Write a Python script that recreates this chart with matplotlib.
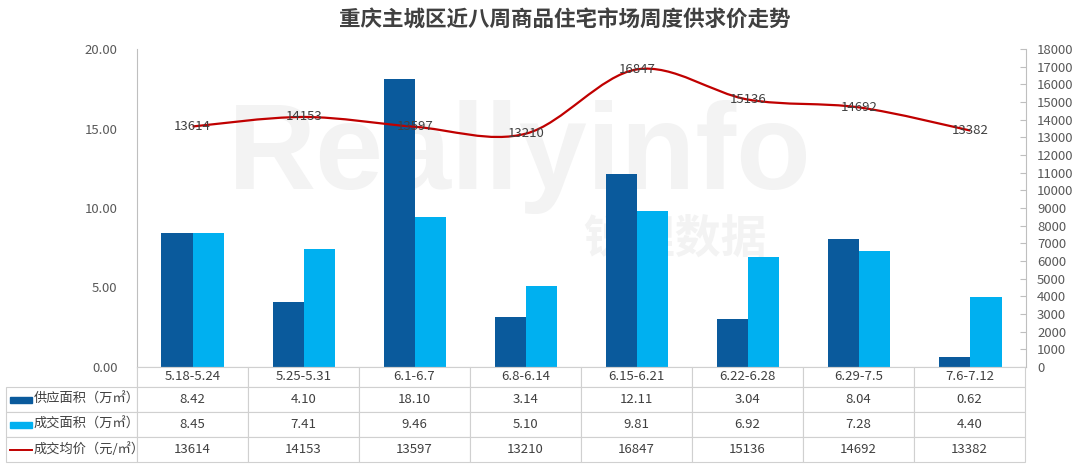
import numpy as np
import matplotlib
matplotlib.use('Agg')
import matplotlib.pyplot as plt
from matplotlib.path import Path
from matplotlib.patches import PathPatch, Rectangle

plt.rcParams['font.family'] = ['Noto Sans CJK SC', 'DejaVu Sans']

# 数据
weeks = ['5.18-5.24', '5.25-5.31', '6.1-6.7', '6.8-6.14',
         '6.15-6.21', '6.22-6.28', '6.29-7.5', '7.6-7.12']
supply = [8.42, 4.10, 18.10, 3.14, 12.11, 3.04, 8.04, 0.62]
deal = [8.45, 7.41, 9.46, 5.10, 9.81, 6.92, 7.28, 4.40]
price = [13614, 14153, 13597, 13210, 16847, 15136, 14692, 13382]
row_names = ['供应面积（万㎡）', '成交面积（万㎡）', '成交均价（元/㎡）']

DARK = '#0A5A9C'
LIGHT = '#00B0F0'
RED = '#C00000'
GRAY = '#BFBFBF'
TXT = '#404040'

W, H = 1080, 468
fig = plt.figure(figsize=(W / 100, H / 100), dpi=100)


def fx(px):
    return px / W


def fy(py):
    return 1 - py / H


# 主图
ax = fig.add_axes([fx(137), fy(367), fx(1026) - fx(137), fy(49) - fy(367)])
x = np.arange(len(weeks))
bw = 0.28
ax.bar(x - bw / 2, supply, bw, color=DARK, zorder=2)
ax.bar(x + bw / 2, deal, bw, color=LIGHT, zorder=2)
ax.set_xlim(-0.5, len(weeks) - 0.5)
ax.set_ylim(0, 20)
ax.set_yticks([0, 5, 10, 15, 20])
ax.set_yticklabels(['%.2f' % v for v in [0, 5, 10, 15, 20]])
ax.set_xticks([])
ax.tick_params(axis='y', length=0, pad=14, labelsize=9.5, labelcolor='#595959')
for s in ['top', 'right']:
    ax.spines[s].set_visible(False)
ax.spines['left'].set_color(GRAY)
ax.spines['bottom'].set_color(GRAY)

# 水印
ax.text(0.43, 0.66, 'Reallyinfo', transform=ax.transAxes, ha='center', va='center',
        fontsize=88, fontweight='bold', family='Liberation Sans', color='#F3F3F3', zorder=0)
ax.text(0.605, 0.40, '锐理数据', transform=ax.transAxes, ha='center', va='center',
        fontsize=33, fontweight='bold', color='#F3F3F3', zorder=0)

# 成交均价 平滑折线
ax2 = ax.twinx()
ax2.set_ylim(0, 18000)
ax2.set_yticks(range(0, 18001, 1000))
ax2.tick_params(axis='y', direction='in', length=4, color=GRAY, pad=8,
                labelsize=9.5, labelcolor='#595959')
for s in ['top', 'left', 'bottom']:
    ax2.spines[s].set_visible(False)
ax2.spines['right'].set_color(GRAY)

pts = np.column_stack([x, price]).astype(float)
verts = [tuple(pts[0])]
codes = [Path.MOVETO]
for i in range(len(pts) - 1):
    p0 = pts[max(i - 1, 0)]
    p1 = pts[i]
    p2 = pts[i + 1]
    p3 = pts[min(i + 2, len(pts) - 1)]
    c1 = p1 + (p2 - p0) / 6
    c2 = p2 - (p3 - p1) / 6
    verts += [tuple(c1), tuple(c2), tuple(p2)]
    codes += [Path.CURVE4] * 3
ax2.add_patch(PathPatch(Path(verts, codes), fill=False, edgecolor=RED, lw=1.6, zorder=3))
for xi, p in zip(x, price):
    ax2.text(xi, p, str(p), ha='center', va='center', fontsize=9.5, color=TXT, zorder=4)

# 标题
fig.text(fx(565), fy(20), '重庆主城区近八周商品住宅市场周度供求价走势',
         ha='center', va='center', fontsize=15.5, fontweight='bold', color=TXT)

# 数据表
tx0, tx1, ty0, ty1 = 6, 1025, 367, 462
tax = fig.add_axes([fx(tx0), fy(ty1), fx(tx1) - fx(tx0), fy(ty0) - fy(ty1)])
tax.set_xlim(tx0, tx1)
tax.set_ylim(ty1, ty0)
tax.axis('off')

cell_text = [[''] + weeks,
             [''] + ['%.2f' % v for v in supply],
             [''] + ['%.2f' % v for v in deal],
             [''] + [str(v) for v in price]]
tbl = tax.table(cellText=cell_text, colWidths=[131] + [111] * len(weeks),
                cellLoc='center', bbox=[0, 0, 1, 1])
tbl.auto_set_font_size(False)
tbl.set_fontsize(9.5)
for (r, c), cell in tbl.get_celld().items():
    cell.set_edgecolor('#D0D0D0')
    cell.set_linewidth(0.8)
    cell.set_height(20 if r == 0 else 25)
    cell.get_text().set_color(TXT)
tbl[0, 0].visible_edges = 'R'

row_y = [399.5, 424.5, 449.5]
for name, yc, kind in zip(row_names, row_y, ['dark', 'light', 'line']):
    if kind == 'line':
        tax.plot([10, 32], [yc, yc], color=RED, lw=1.4)
    else:
        tax.add_patch(Rectangle((10, yc - 3), 22, 6, color=DARK if kind == 'dark' else LIGHT))
    tax.text(34, yc, name, ha='left', va='center', fontsize=9.5, color=TXT)

fig.savefig('out.png', dpi=100)
